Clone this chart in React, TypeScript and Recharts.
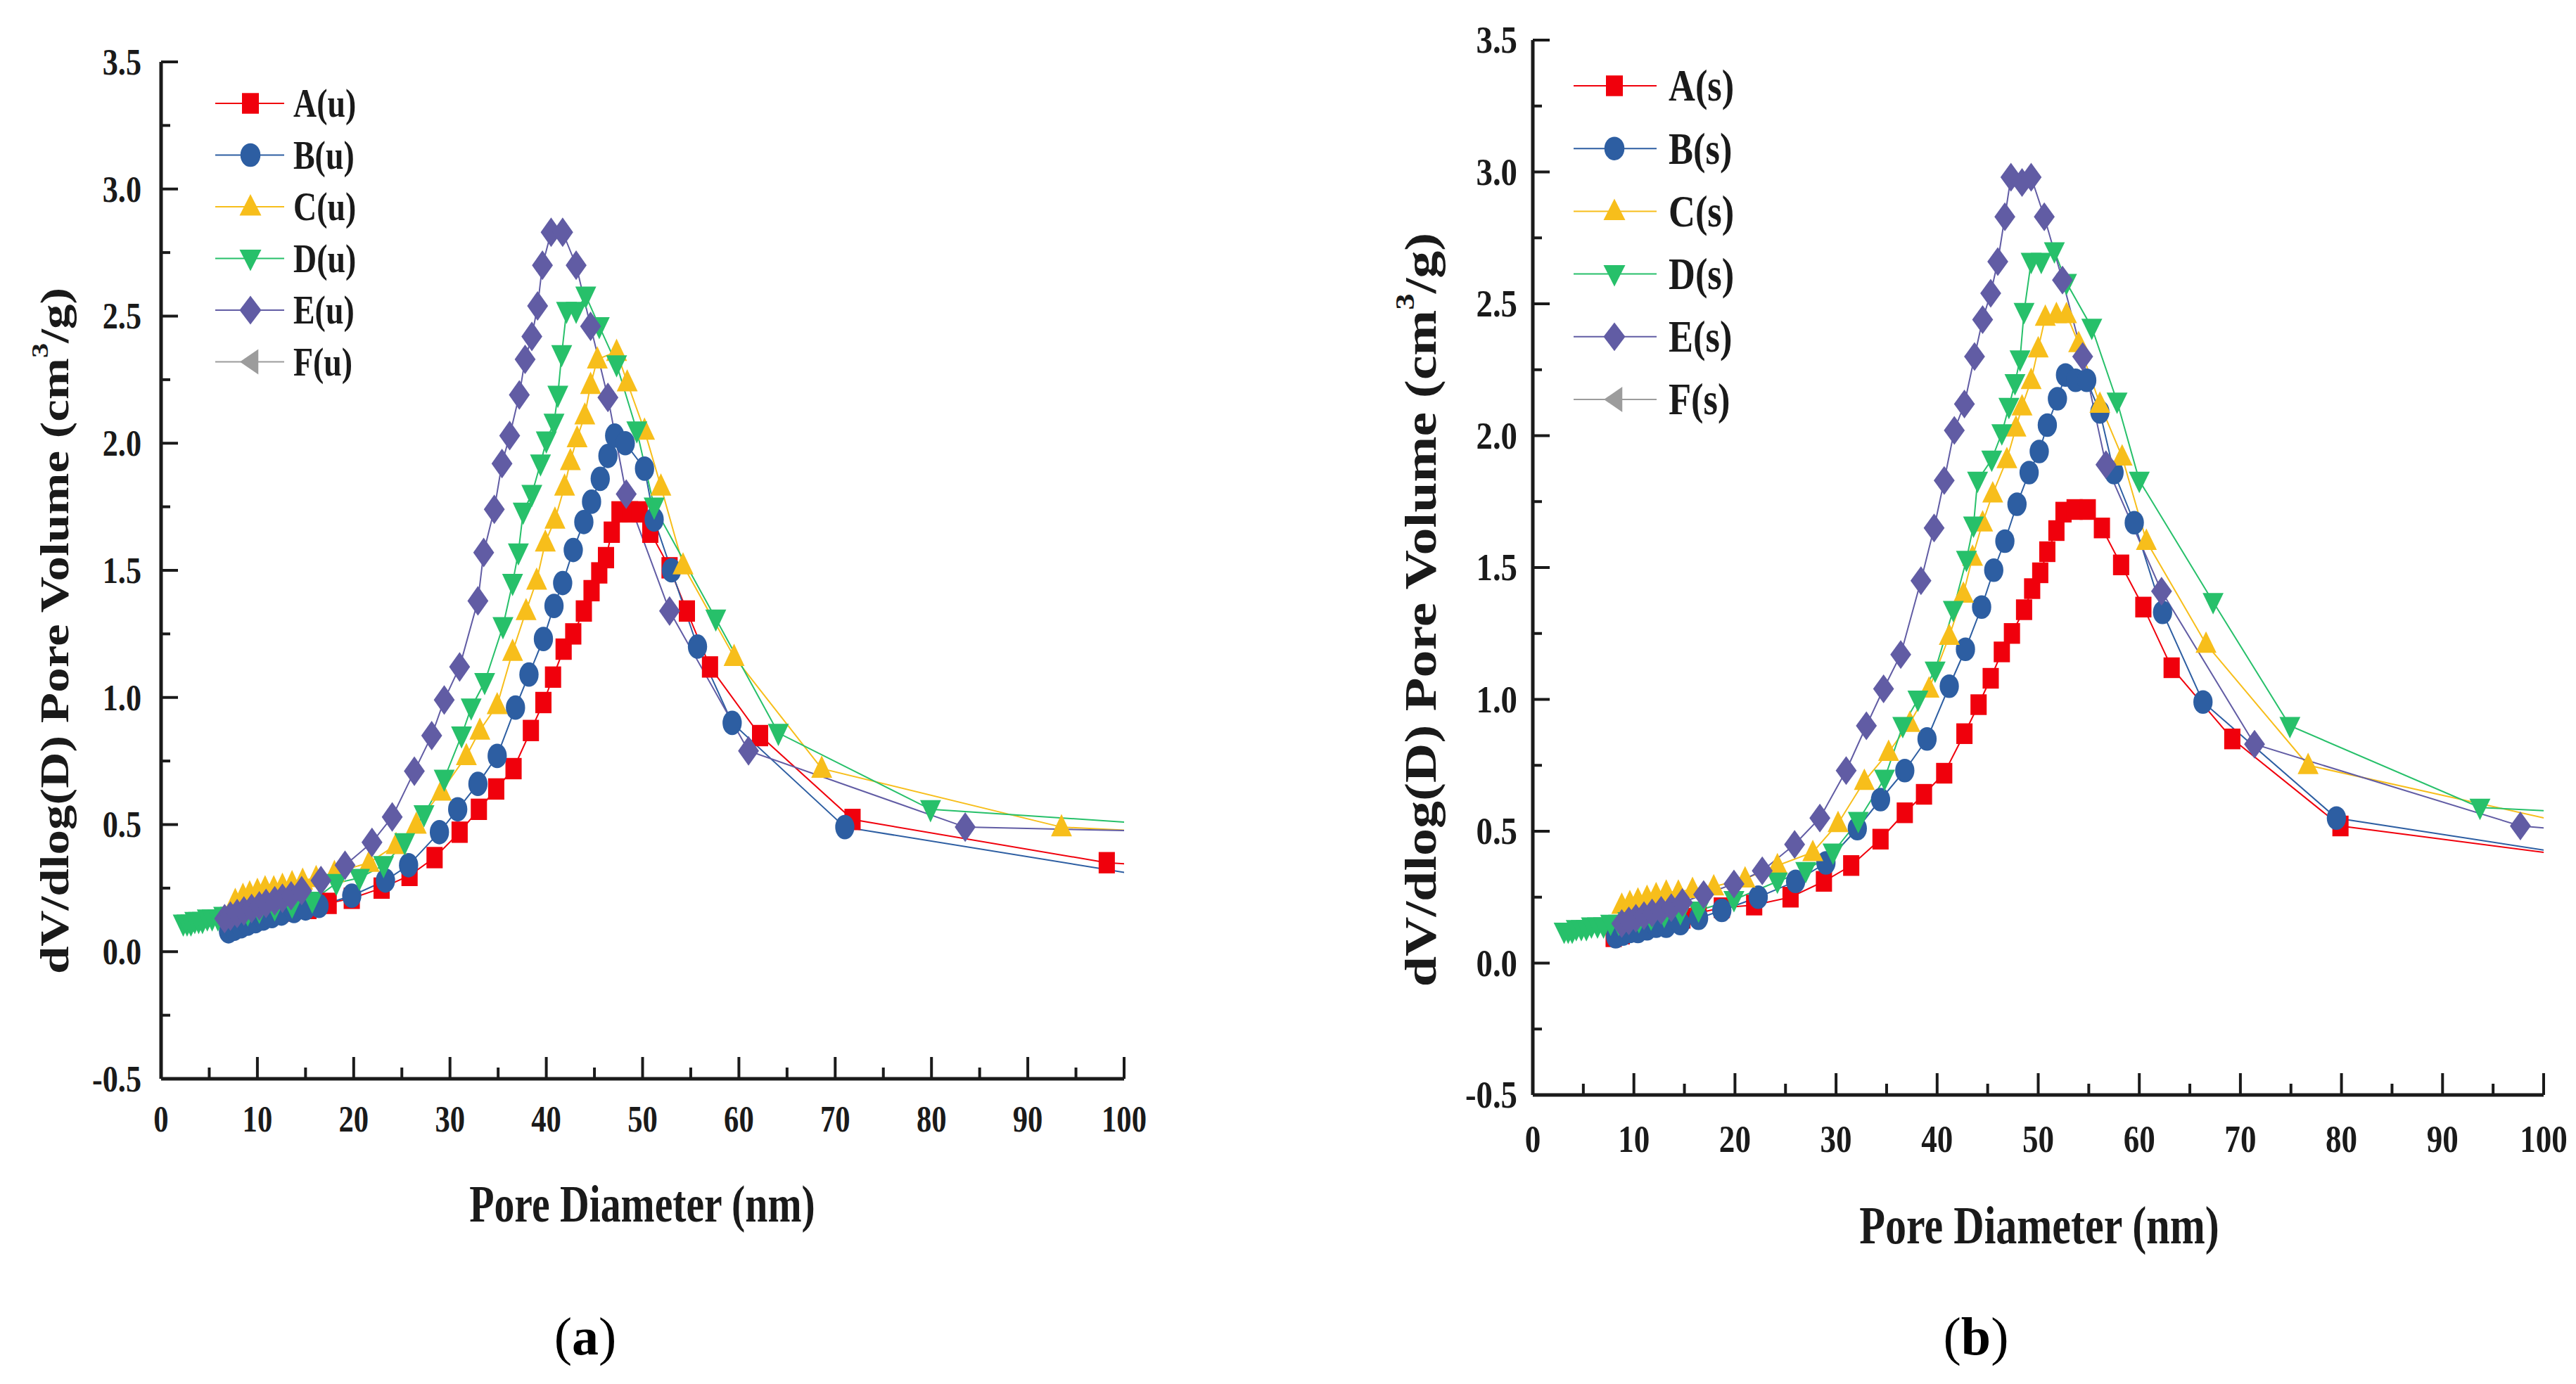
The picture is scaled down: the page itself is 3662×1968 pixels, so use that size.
import React from 'react';
import { LineChart, Line, XAxis, YAxis } from 'recharts';

// ---- shared axis ticks ----
const X_TICKS = [0, 5, 10, 15, 20, 25, 30, 35, 40, 45, 50, 55, 60, 65, 70, 75, 80, 85, 90, 95, 100];
const Y_TICKS = [-0.5, -0.25, 0, 0.25, 0.5, 0.75, 1, 1.25, 1.5, 1.75, 2, 2.25, 2.5, 2.75, 3, 3.25, 3.5];

// ---- panel (a): untreated samples ----
const A_U_X = [7.5, 8.3, 9.1, 10.0, 11.0, 12.1, 13.4, 15.3, 17.4, 19.8, 22.9, 25.8, 28.4, 31.0, 33.0, 34.8, 36.6, 38.4, 39.7, 40.7, 41.8, 42.8, 43.9, 44.7, 45.5, 46.2, 46.8, 47.6, 48.7, 49.7, 50.8, 52.8, 54.6, 57.0, 62.2, 71.8, 98.2, 120];
const A_U_Y = [0.10, 0.11, 0.12, 0.13, 0.14, 0.15, 0.16, 0.17, 0.19, 0.21, 0.25, 0.30, 0.37, 0.47, 0.56, 0.64, 0.72, 0.87, 0.98, 1.08, 1.19, 1.25, 1.34, 1.42, 1.49, 1.55, 1.65, 1.73, 1.73, 1.73, 1.65, 1.51, 1.34, 1.12, 0.85, 0.52, 0.35, 0.30];

const B_U_X = [7.0, 7.6, 8.3, 9.0, 9.8, 10.6, 11.5, 12.5, 13.8, 15.0, 16.4, 19.8, 23.3, 25.7, 28.9, 30.8, 32.9, 34.9, 36.8, 38.2, 39.7, 40.8, 41.7, 42.8, 43.9, 44.7, 45.6, 46.4, 47.1, 48.2, 50.2, 51.2, 53.0, 55.7, 59.3, 71.0, 115];
const B_U_Y = [0.08, 0.09, 0.10, 0.11, 0.12, 0.13, 0.14, 0.15, 0.16, 0.17, 0.18, 0.22, 0.28, 0.34, 0.47, 0.56, 0.66, 0.77, 0.96, 1.09, 1.23, 1.36, 1.45, 1.58, 1.69, 1.77, 1.86, 1.95, 2.03, 2.00, 1.90, 1.70, 1.50, 1.20, 0.90, 0.49, 0.22];

const C_U_X = [7.7, 8.5, 9.2, 10.0, 10.8, 11.7, 12.6, 13.6, 14.7, 16.1, 18.0, 21.6, 24.4, 26.5, 29.1, 31.7, 33.1, 34.9, 36.5, 37.9, 39.0, 39.9, 40.9, 41.9, 42.5, 43.2, 44.0, 44.6, 45.3, 47.3, 48.4, 50.2, 51.9, 54.2, 59.5, 68.6, 93.5, 120];
const C_U_Y = [0.20, 0.22, 0.23, 0.24, 0.25, 0.25, 0.26, 0.27, 0.28, 0.29, 0.31, 0.35, 0.42, 0.50, 0.63, 0.77, 0.87, 0.97, 1.18, 1.34, 1.46, 1.61, 1.70, 1.83, 1.93, 2.02, 2.11, 2.23, 2.33, 2.36, 2.24, 2.05, 1.83, 1.52, 1.16, 0.72, 0.49, 0.44];

const D_U_X = [2.3, 2.7, 3.1, 3.5, 3.9, 4.3, 4.8, 5.3, 5.9, 6.5, 7.2, 8.0, 9.0, 10.2, 11.8, 13.6, 15.7, 18.2, 20.6, 23.1, 25.3, 27.3, 29.4, 31.2, 32.2, 33.6, 35.5, 36.5, 37.1, 37.6, 38.5, 39.4, 40.0, 40.8, 41.2, 41.6, 42.1, 43.1, 44.1, 45.5, 47.3, 49.4, 51.2, 57.6, 64.1, 79.9, 120];
const D_U_Y = [0.11, 0.11, 0.11, 0.12, 0.12, 0.12, 0.13, 0.13, 0.13, 0.14, 0.14, 0.15, 0.15, 0.16, 0.17, 0.18, 0.20, 0.27, 0.29, 0.34, 0.43, 0.54, 0.68, 0.85, 0.96, 1.06, 1.28, 1.45, 1.57, 1.73, 1.80, 1.92, 2.01, 2.08, 2.19, 2.35, 2.52, 2.52, 2.58, 2.46, 2.31, 2.05, 1.75, 1.31, 0.86, 0.56, 0.46];

const E_U_X = [6.6, 7.2, 7.9, 8.6, 9.4, 10.2, 10.9, 11.8, 12.6, 13.5, 14.6, 16.6, 19.1, 21.9, 24.0, 26.3, 28.1, 29.4, 31.0, 32.9, 33.5, 34.6, 35.4, 36.2, 37.2, 37.8, 38.5, 39.1, 39.6, 40.5, 41.7, 43.1, 44.6, 46.4, 48.3, 52.8, 61.0, 83.5, 120];
const E_U_Y = [0.13, 0.14, 0.15, 0.16, 0.17, 0.18, 0.19, 0.20, 0.21, 0.22, 0.24, 0.28, 0.34, 0.43, 0.53, 0.71, 0.85, 0.99, 1.12, 1.38, 1.57, 1.74, 1.92, 2.03, 2.19, 2.33, 2.42, 2.54, 2.70, 2.83, 2.83, 2.70, 2.46, 2.18, 1.80, 1.34, 0.79, 0.49, 0.46];

// ---- panel (b): treated samples ----
const A_S_X = [8.0, 8.8, 9.6, 10.5, 11.4, 12.4, 13.5, 14.8, 16.4, 18.7, 21.9, 25.5, 28.8, 31.5, 34.4, 36.8, 38.7, 40.7, 42.7, 44.1, 45.3, 46.4, 47.4, 48.6, 49.4, 50.2, 50.9, 51.8, 52.5, 53.6, 54.9, 56.3, 58.2, 60.4, 63.2, 69.2, 79.9, 120];
const A_S_Y = [0.10, 0.11, 0.12, 0.13, 0.14, 0.15, 0.16, 0.17, 0.19, 0.21, 0.22, 0.25, 0.31, 0.37, 0.47, 0.57, 0.64, 0.72, 0.87, 0.98, 1.08, 1.18, 1.25, 1.34, 1.42, 1.48, 1.56, 1.64, 1.71, 1.72, 1.72, 1.65, 1.51, 1.35, 1.12, 0.85, 0.52, 0.32];

const B_S_X = [8.2, 8.9, 9.6, 10.4, 11.3, 12.2, 13.2, 14.6, 16.4, 18.7, 22.3, 26.0, 29.0, 32.1, 34.4, 36.8, 39.0, 41.2, 42.8, 44.4, 45.6, 46.7, 47.9, 49.1, 50.1, 50.9, 51.9, 52.7, 53.7, 54.8, 56.1, 57.5, 59.5, 62.3, 66.3, 79.5, 120];
const B_S_Y = [0.10, 0.11, 0.12, 0.12, 0.13, 0.14, 0.14, 0.15, 0.17, 0.20, 0.25, 0.31, 0.38, 0.51, 0.62, 0.73, 0.85, 1.05, 1.19, 1.35, 1.49, 1.60, 1.74, 1.86, 1.94, 2.04, 2.14, 2.23, 2.21, 2.21, 2.09, 1.86, 1.67, 1.33, 0.99, 0.55, 0.31];

const C_S_X = [8.8, 9.6, 10.4, 11.3, 12.2, 13.2, 14.4, 15.8, 17.9, 21.0, 24.2, 27.7, 30.2, 32.8, 35.2, 37.3, 39.2, 41.2, 42.6, 43.5, 44.5, 45.5, 46.9, 47.8, 48.4, 49.3, 50.0, 50.7, 51.8, 52.8, 54.0, 56.1, 58.3, 60.7, 66.6, 76.7, 120];
const C_S_Y = [0.22, 0.23, 0.24, 0.25, 0.26, 0.27, 0.27, 0.28, 0.29, 0.32, 0.37, 0.42, 0.53, 0.69, 0.80, 0.91, 1.04, 1.24, 1.40, 1.54, 1.67, 1.78, 1.91, 2.03, 2.11, 2.21, 2.33, 2.45, 2.46, 2.46, 2.35, 2.12, 1.92, 1.60, 1.21, 0.75, 0.38];

const D_S_X = [3.1, 3.5, 3.9, 4.3, 4.8, 5.3, 5.8, 6.4, 7.0, 7.7, 8.5, 9.4, 10.5, 11.7, 13.0, 14.6, 16.4, 19.9, 24.2, 27.0, 29.7, 32.2, 34.8, 36.6, 38.1, 39.8, 41.6, 42.9, 43.6, 44.0, 45.4, 46.4, 47.1, 47.7, 48.2, 48.6, 49.3, 50.3, 51.6, 52.8, 55.3, 57.8, 60.0, 67.3, 74.9, 93.7, 120];
const D_S_Y = [0.12, 0.12, 0.12, 0.13, 0.13, 0.13, 0.14, 0.14, 0.14, 0.15, 0.15, 0.16, 0.16, 0.17, 0.18, 0.19, 0.20, 0.24, 0.31, 0.35, 0.42, 0.54, 0.70, 0.90, 1.00, 1.11, 1.34, 1.53, 1.66, 1.83, 1.91, 2.01, 2.11, 2.20, 2.29, 2.47, 2.66, 2.66, 2.70, 2.58, 2.41, 2.13, 1.83, 1.37, 0.90, 0.59, 0.54];

const E_S_X = [8.8, 9.5, 10.2, 11.0, 11.8, 12.7, 13.7, 14.8, 16.9, 19.9, 22.7, 25.9, 28.4, 31.0, 33.0, 34.7, 36.4, 38.4, 39.7, 40.7, 41.7, 42.7, 43.7, 44.5, 45.3, 46.0, 46.7, 47.3, 48.4, 49.3, 50.6, 52.4, 54.4, 56.7, 62.2, 71.4, 97.7, 120];
const E_S_Y = [0.15, 0.16, 0.17, 0.18, 0.19, 0.20, 0.21, 0.23, 0.26, 0.30, 0.35, 0.45, 0.55, 0.73, 0.90, 1.04, 1.17, 1.45, 1.65, 1.83, 2.02, 2.12, 2.30, 2.44, 2.54, 2.66, 2.83, 2.98, 2.96, 2.98, 2.83, 2.59, 2.30, 1.89, 1.41, 0.83, 0.52, 0.45];

// F has a legend entry but no visible points in either panel
const F_X: number[] = [];
const F_Y: number[] = [];

const FONT = '"Liberation Serif", "Times New Roman", serif';
const INK = '#1a1a1a';
const RED = '#F0000C';
const BLUE = '#2D5EA2';
const YELLOW = '#F7BE1B';
const GREEN = '#27C06A';
const PURPLE = '#615CA4';
const GREY = '#9C9C9C';

type Shape = 'square' | 'circle' | 'up' | 'down' | 'diamond' | 'left';

interface SeriesSpec {
  name: string;
  xs: number[];
  ys: number[];
  color: string;
  shape: Shape;
}

const toPoints = (xs: number[], ys: number[]) => xs.map((x, i) => ({ x, y: ys[i] }));

// markers are a little taller than wide, like the squeezed original
function Marker({ shape, cx, cy, color, w, h }: { shape: Shape; cx: number; cy: number; color: string; w: number; h: number }) {
  switch (shape) {
    case 'square':
      return <rect x={cx - w * 0.48} y={cy - h * 0.49} width={w * 0.96} height={h * 0.98} fill={color} />;
    case 'circle':
      return <ellipse cx={cx} cy={cy} rx={w * 0.57} ry={h * 0.56} fill={color} />;
    case 'up':
      return <polygon points={`${cx},${cy - h * 0.6} ${cx + w * 0.62},${cy + h * 0.42} ${cx - w * 0.62},${cy + h * 0.42}`} fill={color} />;
    case 'down':
      return <polygon points={`${cx},${cy + h * 0.6} ${cx + w * 0.62},${cy - h * 0.42} ${cx - w * 0.62},${cy - h * 0.42}`} fill={color} />;
    case 'diamond':
      return <polygon points={`${cx},${cy - h * 0.68} ${cx + w * 0.62},${cy} ${cx},${cy + h * 0.68} ${cx - w * 0.62},${cy}`} fill={color} />;
    default:
      return <polygon points={`${cx - w * 0.6},${cy} ${cx + w * 0.45},${cy - h * 0.6} ${cx + w * 0.45},${cy + h * 0.6}`} fill={color} />;
  }
}

interface PanelSpec {
  left: number;
  width: number;
  height: number;
  plotLeft: number;
  plotRight: number;
  plotTop: number;
  plotBottom: number;
  tickFont: number;
  xLabelGap: number;
  yLabelGap: number;
  markerW: number;
  markerH: number;
  series: SeriesSpec[];
}

function Panel({ spec }: { spec: PanelSpec }) {
  const { width, height, plotLeft, plotRight, plotTop, plotBottom } = spec;

  const xTick = (p: any) => {
    const v = p.payload.value as number;
    const major = Math.abs(v % 10) < 1e-6;
    return (
      <g>
        <line x1={p.x} x2={p.x} y1={p.y} y2={p.y - (major ? 31 : 16)} stroke={INK} strokeWidth={4} />
        {major && (
          <text
            transform={`translate(${p.x},${p.y + spec.xLabelGap}) scale(0.82,1)`}
            textAnchor="middle"
            dominantBaseline="central"
            fontFamily={FONT}
            fontWeight="bold"
            fontSize={spec.tickFont}
            fill={INK}
          >
            {v}
          </text>
        )}
      </g>
    );
  };

  const yTick = (p: any) => {
    const v = p.payload.value as number;
    const major = Math.abs(v * 2 - Math.round(v * 2)) < 1e-6;
    return (
      <g>
        <line x1={p.x} x2={p.x + (major ? 24 : 13)} y1={p.y} y2={p.y} stroke={INK} strokeWidth={4} />
        {major && (
          <text
            transform={`translate(${p.x - spec.yLabelGap},${p.y}) scale(0.85,1)`}
            textAnchor="end"
            dominantBaseline="central"
            fontFamily={FONT}
            fontWeight="bold"
            fontSize={spec.tickFont}
            fill={INK}
          >
            {v.toFixed(1)}
          </text>
        )}
      </g>
    );
  };

  return (
    <div style={{ position: 'absolute', left: spec.left, top: 0, width, height }}>
      <LineChart
        width={width}
        height={height}
        margin={{ top: plotTop, right: width - plotRight, bottom: 0, left: 0 }}
      >
        <XAxis
          xAxisId={0}
          dataKey="x"
          type="number"
          domain={[0, 100]}
          ticks={X_TICKS}
          interval={0}
          allowDataOverflow
          height={height - plotBottom}
          tickSize={0}
          tickMargin={0}
          tickLine={false}
          tick={xTick}
          axisLine={{ stroke: INK, strokeWidth: 5 }}
        />
        <XAxis xAxisId="top" orientation="top" type="number" domain={[0, 100]} height={0} tick={false} tickLine={false} axisLine={{ stroke: INK, strokeWidth: 5 }} />
        <YAxis
          yAxisId={0}
          type="number"
          domain={[-0.5, 3.5]}
          ticks={Y_TICKS}
          interval={0}
          allowDataOverflow
          width={plotLeft}
          tickSize={0}
          tickMargin={0}
          tickLine={false}
          tick={yTick}
          axisLine={{ stroke: INK, strokeWidth: 5 }}
        />
        <YAxis yAxisId="right" orientation="right" type="number" domain={[-0.5, 3.5]} width={0} tick={false} tickLine={false} axisLine={{ stroke: INK, strokeWidth: 5 }} />
        {spec.series
          .filter((s) => s.xs.length > 0)
          .map((s) => (
            <Line
              key={s.name}
              data={toPoints(s.xs, s.ys)}
              dataKey="y"
              type="linear"
              stroke={s.color}
              strokeWidth={2}
              isAnimationActive={false}
              activeDot={false}
              legendType="none"
              dot={(p: any) =>
                p.cx == null || p.cy == null ? (
                  <g key={`${s.name}-${p.index}`} />
                ) : (
                  <Marker key={`${s.name}-${p.index}`} shape={s.shape} cx={p.cx} cy={p.cy} color={s.color} w={spec.markerW} h={spec.markerH} />
                )
              }
            />
          ))}
      </LineChart>
    </div>
  );
}

const SERIES_A: SeriesSpec[] = [
  { name: 'A(u)', xs: A_U_X, ys: A_U_Y, color: RED, shape: 'square' },
  { name: 'B(u)', xs: B_U_X, ys: B_U_Y, color: BLUE, shape: 'circle' },
  { name: 'C(u)', xs: C_U_X, ys: C_U_Y, color: YELLOW, shape: 'up' },
  { name: 'D(u)', xs: D_U_X, ys: D_U_Y, color: GREEN, shape: 'down' },
  { name: 'E(u)', xs: E_U_X, ys: E_U_Y, color: PURPLE, shape: 'diamond' },
  { name: 'F(u)', xs: F_X, ys: F_Y, color: GREY, shape: 'left' },
];

const SERIES_B: SeriesSpec[] = [
  { name: 'A(s)', xs: A_S_X, ys: A_S_Y, color: RED, shape: 'square' },
  { name: 'B(s)', xs: B_S_X, ys: B_S_Y, color: BLUE, shape: 'circle' },
  { name: 'C(s)', xs: C_S_X, ys: C_S_Y, color: YELLOW, shape: 'up' },
  { name: 'D(s)', xs: D_S_X, ys: D_S_Y, color: GREEN, shape: 'down' },
  { name: 'E(s)', xs: E_S_X, ys: E_S_Y, color: PURPLE, shape: 'diamond' },
  { name: 'F(s)', xs: F_X, ys: F_Y, color: GREY, shape: 'left' },
];

const PANEL_A: PanelSpec = {
  left: 0, width: 1700, height: 1800,
  plotLeft: 229, plotRight: 1598, plotTop: 88, plotBottom: 1534,
  tickFont: 52, xLabelGap: 58, yLabelGap: 28,
  markerW: 24, markerH: 31,
  series: SERIES_A,
};

const PANEL_B: PanelSpec = {
  left: 1900, width: 1762, height: 1800,
  plotLeft: 279, plotRight: 1716, plotTop: 57, plotBottom: 1557,
  tickFont: 55, xLabelGap: 62, yLabelGap: 22,
  markerW: 24, markerH: 30,
  series: SERIES_B,
};

function Legend({ series, x0, x1, mx, tx, y0, dy, font }: { series: SeriesSpec[]; x0: number; x1: number; mx: number; tx: number; y0: number; dy: number; font: number }) {
  return (
    <g>
      {series.map((s, i) => {
        const y = y0 + i * dy;
        return (
          <g key={s.name}>
            <line x1={x0} x2={x1} y1={y} y2={y} stroke={s.color} strokeWidth={2} />
            <Marker shape={s.shape} cx={mx} cy={y} color={s.color} w={25} h={30} />
            <text transform={`translate(${tx},${y}) scale(0.82,1)`} dominantBaseline="central" fontFamily={FONT} fontWeight="bold" fontSize={font} fill={INK}>
              {s.name}
            </text>
          </g>
        );
      })}
    </g>
  );
}

function YTitle({ cx, cy, font }: { cx: number; cy: number; font: number }) {
  return (
    <text
      transform={`translate(${cx},${cy}) scale(0.8,1) rotate(-90)`}
      textAnchor="middle"
      dominantBaseline="central"
      fontFamily={FONT}
      fontWeight="bold"
      fontSize={font}
      fill={INK}
    >
      dV/dlog(D) Pore Volume (cm
      <tspan fontSize={font * 0.6} dy={-font * 0.38}>3</tspan>
      <tspan dy={font * 0.38}>/g)</tspan>
    </text>
  );
}

function XTitle({ cx, cy, font }: { cx: number; cy: number; font: number }) {
  return (
    <text
      transform={`translate(${cx},${cy}) scale(0.78,1)`}
      textAnchor="middle"
      dominantBaseline="central"
      fontFamily={FONT}
      fontWeight="bold"
      fontSize={font}
      fill={INK}
    >
      Pore Diameter (nm)
    </text>
  );
}

function Caption({ cx, cy, letter }: { cx: number; cy: number; letter: string }) {
  return (
    <text x={cx} y={cy} textAnchor="middle" dominantBaseline="central" fontFamily={FONT} fontSize={76} fill="#000">
      (<tspan fontWeight="bold">{letter}</tspan>)
    </text>
  );
}

export default function App() {
  return (
    <div style={{ position: 'absolute', left: 0, top: 0, width: 3662, height: 1968, background: '#fff', overflow: 'hidden' }}>
      <Panel spec={PANEL_A} />
      <Panel spec={PANEL_B} />
      <svg width={3662} height={1968} style={{ position: 'absolute', left: 0, top: 0, pointerEvents: 'none' }}>
        <Legend series={SERIES_A} x0={306} x1={404} mx={356} tx={417} y0={147} dy={73.5} font={56} />
        <Legend series={SERIES_B} x0={2237} x1={2355} mx={2295} tx={2372} y0={122} dy={89.2} font={64} />
        <YTitle cx={78} cy={897} font={71} />
        <YTitle cx={2020} cy={867} font={78} />
        <XTitle cx={913} cy={1712} font={74} />
        <XTitle cx={2899} cy={1742} font={77} />
        <Caption cx={832} cy={1900} letter="a" />
        <Caption cx={2809} cy={1900} letter="b" />
      </svg>
    </div>
  );
}
